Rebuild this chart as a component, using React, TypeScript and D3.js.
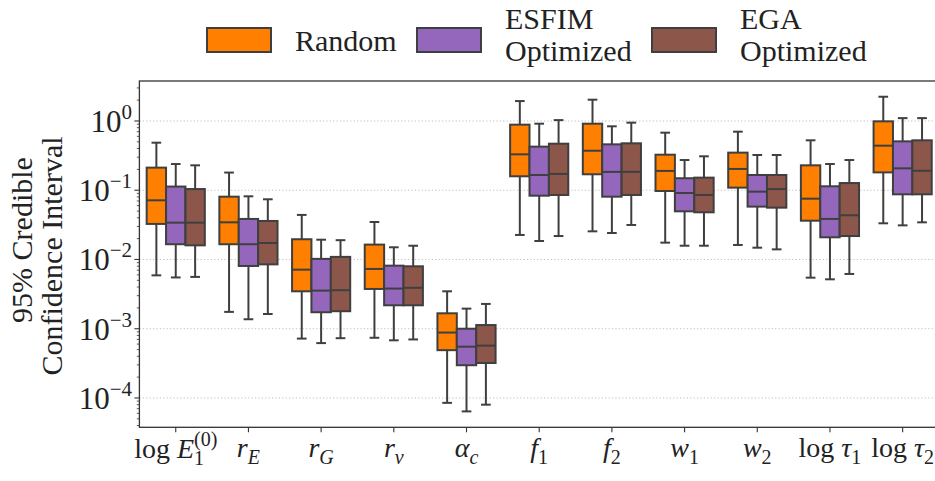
import React from "react";
import * as d3 from "d3";

// Parameters shown on the x axis
const categories = ["logE1", "rE", "rG", "rnu", "alphac", "f1", "f2", "w1", "w2", "logtau1", "logtau2"];

// Tick label pieces: [text, kind] where kind is r (roman), i (italic), sub, sup
const tickLabels: [string, string][][] = [
  [["log ", "r"], ["E", "i"], ["1", "sub"], ["(0)", "supback"]],
  [["r", "i"], ["E", "subi"]],
  [["r", "i"], ["G", "subi"]],
  [["r", "i"], ["ν", "subi"]],
  [["α", "i"], ["c", "subi"]],
  [["f", "i"], ["1", "sub"]],
  [["f", "i"], ["2", "sub"]],
  [["w", "i"], ["1", "sub"]],
  [["w", "i"], ["2", "sub"]],
  [["log ", "r"], ["τ", "i"], ["1", "sub"]],
  [["log ", "r"], ["τ", "i"], ["2", "sub"]],
];

const groups = ["Random", "ESFIM Optimized", "EGA Optimized"];
const groupColors = ["#ff7f00", "#9467bd", "#8c564b"];

// Box statistics per parameter: [lower whisker, Q1, median, Q3, upper whisker]
const randomStats = [
  [0.0059, 0.0326, 0.0715, 0.212, 0.486],
  [0.00175, 0.0166, 0.0344, 0.0807, 0.18],
  [0.00072, 0.00347, 0.00713, 0.0196, 0.044],
  [0.00074, 0.00375, 0.0073, 0.0164, 0.0348],
  [8.5e-5, 0.00049, 0.00088, 0.00167, 0.00347],
  [0.0226, 0.159, 0.33, 0.885, 1.94],
  [0.0255, 0.17, 0.372, 0.914, 2.03],
  [0.0175, 0.0975, 0.19, 0.326, 0.678],
  [0.0162, 0.109, 0.203, 0.349, 0.701],
  [0.00546, 0.0363, 0.0755, 0.229, 0.526],
  [0.0333, 0.181, 0.44, 0.989, 2.24],
];

const esfimStats = [
  [0.0055, 0.0166, 0.034, 0.113, 0.239],
  [0.00137, 0.00806, 0.0166, 0.0385, 0.0817],
  [0.00062, 0.00173, 0.00355, 0.0102, 0.0193],
  [0.00068, 0.00218, 0.0038, 0.00814, 0.015],
  [6.4e-5, 0.000297, 0.00055, 0.001, 0.00195],
  [0.0185, 0.0834, 0.166, 0.426, 0.914],
  [0.0241, 0.0807, 0.184, 0.46, 0.838],
  [0.0158, 0.0496, 0.0912, 0.149, 0.273],
  [0.0148, 0.058, 0.0954, 0.166, 0.323],
  [0.00517, 0.0209, 0.0385, 0.114, 0.239],
  [0.0311, 0.0873, 0.207, 0.508, 1.1],
];

const egaStats = [
  [0.0056, 0.016, 0.034, 0.104, 0.229],
  [0.00163, 0.0085, 0.0173, 0.036, 0.074],
  [0.00073, 0.00179, 0.0036, 0.0109, 0.019],
  [0.0007, 0.00218, 0.0039, 0.00797, 0.0158],
  [8.0e-5, 0.00032, 0.00057, 0.00113, 0.00228],
  [0.0218, 0.0854, 0.172, 0.47, 1.03],
  [0.0315, 0.0854, 0.184, 0.476, 0.946],
  [0.0158, 0.048, 0.0854, 0.152, 0.309],
  [0.014, 0.056, 0.104, 0.166, 0.323],
  [0.00618, 0.0218, 0.0435, 0.127, 0.273],
  [0.0344, 0.0873, 0.191, 0.526, 1.1],
];

const yTickExponents = [0, -1, -2, -3, -4];

const W = 935;
const H = 481;
const FONT = "'Liberation Serif', 'Times New Roman', serif";
const EDGE = "#3f3f3f";

export default function App() {
  const left = 139.4;
  const right = 939;
  const top = 81;
  const bottom = 427.3;

  const x = d3.scaleBand<string>().domain(categories).range([left, right]).paddingInner(0).paddingOuter(0);
  const inner = d3
    .scaleBand<string>()
    .domain(groups)
    .range([x.bandwidth() * 0.1, x.bandwidth() * 0.9]);
  const y = d3.scaleLog().domain([3.77e-5, 3.78]).range([bottom, top]);

  const allStats = [randomStats, esfimStats, egaStats];

  // minor ticks on the log axis
  const minor: number[] = [];
  for (let e = -5; e <= 0; e++) {
    for (let k = 2; k <= 9; k++) {
      const v = k * Math.pow(10, e);
      if (v >= y.domain()[0] && v <= y.domain()[1]) minor.push(v);
    }
  }

  const bw = inner.bandwidth();

  const renderTick = (parts: [string, string][]) => {
    const out: React.ReactNode[] = [];
    let shift = 0;
    parts.forEach(([t, kind], k) => {
      if (kind === "r") {
        out.push(<tspan key={k} dy={-shift} fontStyle="normal">{t}</tspan>);
        shift = 0;
      } else if (kind === "i") {
        out.push(<tspan key={k} dy={-shift} fontStyle="italic">{t}</tspan>);
        shift = 0;
      } else if (kind === "sub" || kind === "subi") {
        out.push(
          <tspan key={k} dy={7 - shift} fontSize={20} fontStyle={kind === "subi" ? "italic" : "normal"}>{t}</tspan>
        );
        shift = 7;
      } else if (kind === "supback") {
        out.push(
          <tspan key={k} dx={-10} dy={-12 - shift} fontSize={20} fontStyle="normal">{t}</tspan>
        );
        shift = -12;
      }
    });
    return out;
  };

  return (
    <svg
      width={W}
      height={H}
      style={{ position: "absolute", left: 0, top: 0, background: "#fff" }}
      fontFamily={FONT}
    >
      <rect x={0} y={0} width={W} height={H} fill="#fff" />

      {/* grid */}
      {yTickExponents.map((e) => (
        <line
          key={"g" + e}
          x1={left}
          x2={right}
          y1={y(Math.pow(10, e))}
          y2={y(Math.pow(10, e))}
          stroke="#b8b8b8"
          strokeWidth={0.9}
          strokeDasharray="1.2,2.2"
        />
      ))}

      {/* boxes */}
      {categories.map((c, i) =>
        groups.map((g, j) => {
          const [lo, q1, med, q3, hi] = allStats[j][i];
          const x0 = (x(c) as number) + (inner(g) as number);
          const cx = x0 + bw / 2;
          return (
            <g key={c + g}>
              <line x1={cx} x2={cx} y1={y(q3)} y2={y(hi)} stroke={EDGE} strokeWidth={2} />
              <line x1={cx} x2={cx} y1={y(q1)} y2={y(lo)} stroke={EDGE} strokeWidth={2} />
              <line x1={cx - bw / 4} x2={cx + bw / 4} y1={y(hi)} y2={y(hi)} stroke={EDGE} strokeWidth={2} />
              <line x1={cx - bw / 4} x2={cx + bw / 4} y1={y(lo)} y2={y(lo)} stroke={EDGE} strokeWidth={2} />
              <rect
                x={x0}
                y={y(q3)}
                width={bw}
                height={y(q1) - y(q3)}
                fill={groupColors[j]}
                stroke={EDGE}
                strokeWidth={2}
              />
              <line x1={x0} x2={x0 + bw} y1={y(med)} y2={y(med)} stroke={EDGE} strokeWidth={2} />
            </g>
          );
        })
      )}

      {/* frame */}
      <rect x={left} y={top} width={right - left} height={bottom - top} fill="none" stroke="#333" strokeWidth={1.3} />

      {/* y ticks */}
      {minor.map((v, k) => (
        <line key={"m" + k} x1={left - 2.6} x2={left} y1={y(v)} y2={y(v)} stroke="#333" strokeWidth={0.8} />
      ))}
      {yTickExponents.map((e) => {
        const py = y(Math.pow(10, e));
        return (
          <g key={"t" + e}>
            <line x1={left - 5} x2={left} y1={py} y2={py} stroke="#333" strokeWidth={1.1} />
            <text x={132} y={py + 11} textAnchor="end" fontSize={31} fill="#222">
              <tspan>10</tspan>
              <tspan dy={-13} fontSize={21}>{e === 0 ? "0" : "−" + Math.abs(e)}</tspan>
            </text>
          </g>
        );
      })}

      {/* x ticks */}
      {categories.map((c, i) => {
        const cx = (x(c) as number) + x.bandwidth() / 2;
        return (
          <g key={"x" + c}>
            <line x1={cx} x2={cx} y1={bottom} y2={bottom + 5} stroke="#333" strokeWidth={1.1} />
            <text x={cx} y={i === 0 ? 458 : 457} textAnchor="middle" fontSize={28} fill="#222">
              {renderTick(tickLabels[i])}
            </text>
          </g>
        );
      })}

      {/* y axis title */}
      <text transform="translate(32,240) rotate(-90)" textAnchor="middle" fontSize={30} fill="#222">
        95% Credible
      </text>
      <text transform="translate(62,256) rotate(-90)" textAnchor="middle" fontSize={30} fill="#222">
        Confidence Interval
      </text>

      {/* legend */}
      {groups.map((g, j) => {
        const px = [207, 417, 652][j];
        const tx = px + 88;
        const words = g.split(" ");
        return (
          <g key={"l" + g}>
            <rect x={px} y={28} width={64} height={24} fill={groupColors[j]} stroke={EDGE} strokeWidth={2} />
            {words.length === 1 ? (
              <text x={tx} y={51} fontSize={30} fill="#222">{g}</text>
            ) : (
              <text x={tx} fontSize={30} fill="#222">
                <tspan x={tx} y={29}>{words[0]}</tspan>
                <tspan x={tx} y={61}>{words[1]}</tspan>
              </text>
            )}
          </g>
        );
      })}
    </svg>
  );
}
